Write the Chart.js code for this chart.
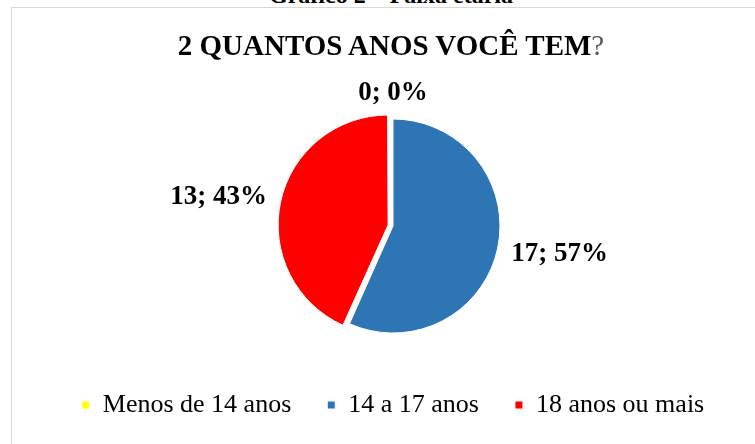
<!DOCTYPE html>
<html lang="pt">
<head>
<meta charset="utf-8">
<title>2 QUANTOS ANOS VOCÊ TEM?</title>
<script src="https://cdn.jsdelivr.net/npm/chart.js@4/dist/chart.umd.min.js"></script>
<style>
  html, body { margin: 0; padding: 0; background: #fff; overflow: hidden; width: 755px; height: 444px; }
  #caption { position: absolute; left: 0; width: 782px; top: -17px; text-align: center;
    font: bold 24px/24px "Liberation Serif", "Times New Roman", serif; color: #000; white-space: nowrap; }
  #frame { position: absolute; left: 11px; top: 7px; width: 800px; height: 500px;
    border: 1px solid #d9d9d9; box-sizing: border-box; }
  #chart { position: absolute; left: 11px; top: 8px; }
  #title { position: absolute; left: 0; width: 782px; top: 31px; text-align: center;
    font: bold 29px/29px "Liberation Serif", "Times New Roman", serif; color: #000; white-space: nowrap; }
  #title span { font-weight: normal; color: #595959; }
</style>
</head>
<body>
<div id="caption">Gráfico 2 – Faixa etária</div>
<div id="frame"></div>
<canvas id="chart" width="764" height="420"></canvas>
<div id="title">2 QUANTOS ANOS VOCÊ TEM<span>?</span></div>
<script>
// faixas etárias e respostas
const categories = ['Menos de 14 anos', '14 a 17 anos', '18 anos ou mais']
const counts = [0, 17, 13]
const sliceColors = ['#ffff00', '#2e75b6', '#ff0000']

const serif = '"Liberation Serif", "Times New Roman", serif'

// same shift ArcElement.draw applies for options.offset
function arcShift(arc) {
  const off = (arc.options.offset || 0) / 4
  const circ = arc.endAngle - arc.startAngle
  const fix = 1 - Math.sin(Math.min(Math.PI, circ || 0))
  return off + off * fix
}

// "valor; pct%" outside each slice
const outsideLabels = {
  id: 'outsideLabels',
  afterDatasetsDraw(chart) {
    const { ctx } = chart
    const meta = chart.getDatasetMeta(0)
    const data = chart.data.datasets[0].data
    const total = data.reduce((a, b) => a + b, 0)
    ctx.save()
    ctx.font = 'bold 27px ' + serif
    ctx.fillStyle = '#000'
    ctx.textAlign = 'center'
    ctx.textBaseline = 'middle'
    meta.data.forEach((arc, i) => {
      const { x, y, startAngle, endAngle, outerRadius } =
        arc.getProps(['x', 'y', 'startAngle', 'endAngle', 'outerRadius'], true)
      const mid = (startAngle + endAngle) / 2
      const cos = Math.cos(mid), sin = Math.sin(mid)
      const text = data[i] + '; ' + Math.round(data[i] / total * 100) + '%'
      const w = ctx.measureText(text).width
      const h = 21
      const d = outerRadius + arcShift(arc) + 15
      ctx.fillText(text, x + cos * d + cos * w / 2, y + sin * d + sin * h / 2)
    })
    ctx.restore()
  }
}

new Chart(document.getElementById('chart').getContext('2d'), {
  type: 'pie',
  data: {
    labels: categories,
    datasets: [{
      data: counts,
      backgroundColor: sliceColors,
      borderColor: '#fff',
      borderWidth: 1,
      offset: [0, 0, 20],
      hoverOffset: 0
    }]
  },
  options: {
    responsive: false,
    animation: false,
    radius: 107,
    layout: { padding: { top: 88, bottom: 0, left: 0, right: 0 } },
    plugins: {
      tooltip: { enabled: false },
      title: { display: false },
      legend: {
        position: 'bottom',
        labels: {
          color: '#000',
          font: { family: serif, size: 26 },
          boxWidth: 8,
          boxHeight: 8,
          padding: 36
        }
      }
    }
  },
  plugins: [outsideLabels]
})
</script>
</body>
</html>
